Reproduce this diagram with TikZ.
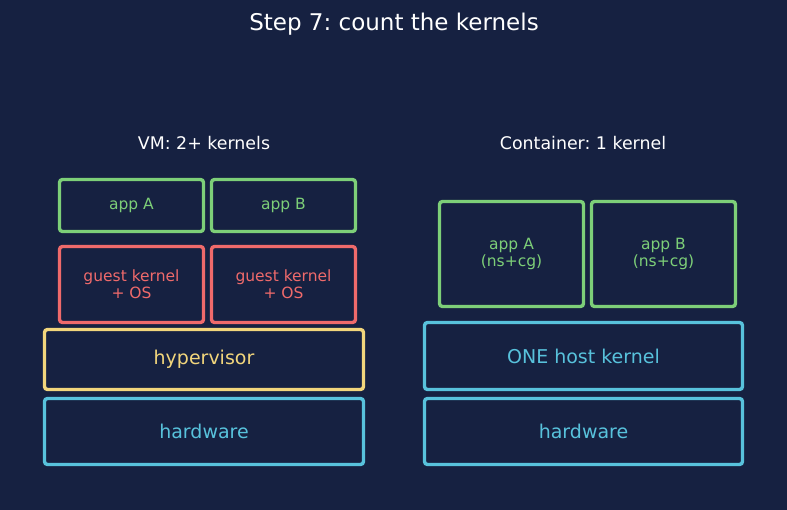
\documentclass[tikz,border=0pt]{standalone}
\usepackage{fontspec}
\setmainfont{DejaVu Sans}
\usepackage{tikz}
\frenchspacing

\definecolor{bgnavy}{HTML}{162141}
\definecolor{appgreen}{HTML}{7DCF78}
\definecolor{kernred}{HTML}{EF6A6B}
\definecolor{hypyellow}{HTML}{F2D67C}
\definecolor{hwblue}{HTML}{58C2DC}

\begin{document}
\begin{tikzpicture}[x=1pt,y=-1pt,
  layer/.style={draw, line width=3.4pt, rounded corners=3pt, align=center, inner sep=0pt},
  small/.style={font=\fontsize{15.5}{17}\selectfont},
  big/.style={font=\fontsize{19}{22}\selectfont},
  heading/.style={text=white, font=\fontsize{17.4}{20}\selectfont}]
% background
\fill[bgnavy] (0,0) rectangle (787,510);
\useasboundingbox (0,0) rectangle (787,510);
% title
\node[text=white, font=\fontsize{23}{27}\selectfont] (title) at (394,24) {Step 7: count the kernels};
% VM side
\node[heading] (vmhead) at (204,143) {VM: 2+ kernels};
\node[layer, small, appgreen, minimum width=144pt, minimum height=52pt] (vmappa) at (131.5,205.5) {app A};
\node[layer, small, appgreen, minimum width=144pt, minimum height=52pt] (vmappb) at (283.5,205.5) {app B};
\node[layer, small, kernred, minimum width=144pt, minimum height=76pt] (guesta) at (131.5,284.5) {guest kernel\\+ OS};
\node[layer, small, kernred, minimum width=144pt, minimum height=76pt] (guestb) at (283.5,284.5) {guest kernel\\+ OS};
\node[layer, big, hypyellow, minimum width=319pt, minimum height=60pt] (hyper) at (204,359.5) {hypervisor};
\node[layer, big, hwblue, minimum width=319pt, minimum height=66pt] (vmhw) at (204,431.5) {hardware};
% container side
\node[heading] (cthead) at (583,143) {Container: 1 kernel};
\node[layer, small, appgreen, minimum width=144pt, minimum height=105pt] (ctappa) at (511.5,254) {app A\\(ns+cg)};
\node[layer, small, appgreen, minimum width=144pt, minimum height=105pt] (ctappb) at (663.5,254) {app B\\(ns+cg)};
\node[layer, big, hwblue, minimum width=318pt, minimum height=67pt] (hostk) at (583.5,356) {ONE host kernel};
\node[layer, big, hwblue, minimum width=318pt, minimum height=66pt] (cthw) at (583.5,431.5) {hardware};
\end{tikzpicture}
\end{document}
